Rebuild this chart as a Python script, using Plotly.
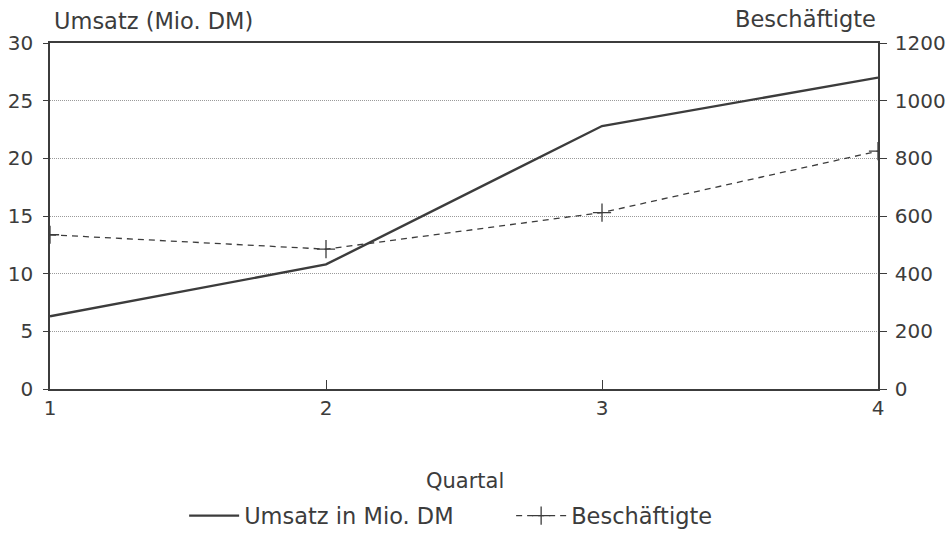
import plotly.graph_objects as go

quartal = [1, 2, 3, 4]
umsatz = [6.3, 10.8, 22.8, 27.0]
beschaeftigte = [535, 485, 612, 825]

ink = "#3c3c3c"
font_family = "DejaVu Sans"
plot_h = 534 - 43 - 145

fig = go.Figure()
fig.add_trace(go.Scatter(
    x=quartal, y=umsatz, name="Umsatz in Mio. DM", mode="lines",
    line=dict(color=ink, width=2.4), yaxis="y"))
fig.add_trace(go.Scatter(
    x=quartal, y=beschaeftigte, name="Beschäftigte", mode="lines+markers",
    line=dict(color=ink, width=1.3, dash="6px,5px"),
    marker=dict(symbol="cross-thin", size=13, line=dict(color=ink, width=1.3)),
    yaxis="y2"))

fig.update_layout(
    width=949, height=534,
    margin=dict(l=50, r=71, t=43, b=145, autoexpand=False),
    paper_bgcolor="white", plot_bgcolor="white",
    font=dict(family=font_family, color=ink, size=19),
    showlegend=True,
    legend=dict(orientation="h", x=0.162, xanchor="left", y=-127 / plot_h,
                yanchor="middle", font=dict(size=22.5), itemwidth=50,
                entrywidth=262, entrywidthmode="pixels"),
    xaxis=dict(range=[1, 4], tickvals=quartal, ticktext=["1", "2", "3", "4"],
               showgrid=False, showline=True, linecolor=ink, linewidth=1.5,
               mirror=True, ticks="inside", ticklen=9, tickcolor=ink,
               zeroline=False, tickfont=dict(size=20), automargin=False),
    yaxis=dict(range=[0, 30], tickvals=[0, 5, 10, 15, 20, 25, 30],
               showgrid=True, gridcolor="#9a9a9a", griddash="1px,1px", gridwidth=1,
               showline=True, linecolor=ink, linewidth=1.5,
               ticks="outside", ticklen=5, tickcolor=ink, zeroline=False,
               tickfont=dict(size=20), automargin=False, ticklabelstandoff=6),
    yaxis2=dict(range=[0, 1200], tickvals=[0, 200, 400, 600, 800, 1000, 1200],
                overlaying="y", side="right", showgrid=False,
                showline=True, linecolor=ink, linewidth=1.5,
                ticks="outside", ticklen=7, tickcolor=ink, zeroline=False,
                tickfont=dict(size=20), automargin=False, ticklabelstandoff=4),
    annotations=[
        dict(text="Umsatz (Mio. DM)", xref="paper", yref="paper", x=0.003,
             y=1 + 22 / plot_h, xanchor="left", yanchor="middle", showarrow=False,
             font=dict(size=22.5, color=ink)),
        dict(text="Beschäftigte", xref="paper", yref="paper", x=1.0,
             y=1 + 24 / plot_h, xanchor="right", yanchor="middle", showarrow=False,
             font=dict(size=22.5, color=ink)),
        dict(text="Quartal", xref="paper", yref="paper", x=(465 - 50) / 828,
             y=-92 / plot_h, xanchor="center", yanchor="middle", showarrow=False,
             font=dict(size=21, color=ink)),
    ],
)

fig.write_html("out.html",
               config={"displayModeBar": False},
               post_script="document.body.style.margin='0px';"
                           "document.body.style.overflow='hidden';")
